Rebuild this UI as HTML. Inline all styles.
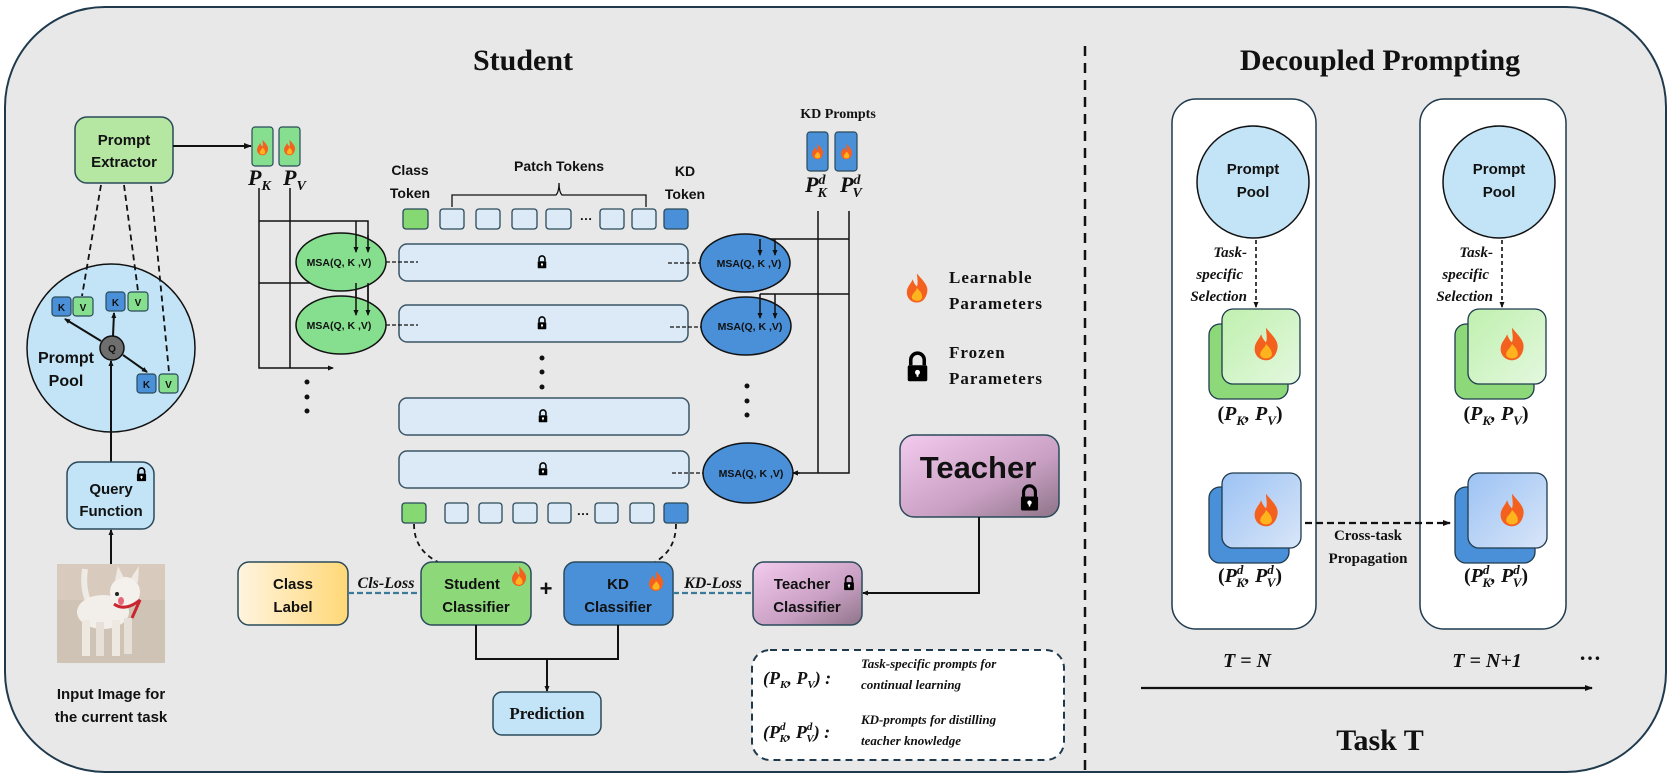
<!DOCTYPE html>
<html><head><meta charset="utf-8"><style>
html,body{margin:0;padding:0;background:#fff;}
svg{display:block;}
.sb{font-family:"Liberation Sans",sans-serif;font-weight:bold;fill:#111;}
.sf{font-family:"Liberation Serif",serif;font-weight:bold;fill:#111;}
.mi{font-family:"Liberation Serif",serif;font-weight:bold;font-style:italic;fill:#111;}
</style></head><body>
<svg width="1673" height="782" viewBox="0 0 1673 782" xmlns="http://www.w3.org/2000/svg">
<defs>
<marker id="ar" markerWidth="8" markerHeight="8" refX="7" refY="4" orient="auto" markerUnits="userSpaceOnUse"><path d="M0,1 L8,4 L0,7 Z" fill="#111"/></marker>
<marker id="ars" markerWidth="6" markerHeight="6" refX="5" refY="3" orient="auto" markerUnits="userSpaceOnUse"><path d="M0,0.5 L6,3 L0,5.5 Z" fill="#111"/></marker>
<symbol id="fl" viewBox="-8 -11 16 22" overflow="visible">
<path d="M0,-10 C4,-5 8,-2 7,3 C6,8 3,10 0,10 C-4,10 -7,7 -7,3 C-7,-1 -4,-3 -3,-6 C-2,-3 -1,-2 0,-1 C1,-4 0,-7 0,-10Z" fill="#f4601e"/>
<path d="M0,0 C2,2 4,4 3.5,7 C2.5,9.5 -2.5,9.5 -3.5,7 C-4,4 -1,3 0,0Z" fill="#ffb41e"/>
</symbol>
<symbol id="lk" viewBox="-6 -9 12 18" overflow="visible">
<path d="M-3.8,-1 V-4 A3.8,3.8 0 0 1 3.8,-4 V-1" stroke="#000" stroke-width="2" fill="none"/>
<rect x="-5.5" y="-1" width="11" height="9" rx="1" fill="#000"/>
<circle cx="0" cy="3" r="1.4" fill="#fff"/><rect x="-0.5" y="3" width="1" height="2.5" fill="#fff"/>
</symbol>
<linearGradient id="gy" x1="0" x2="1" y1="0" y2="0"><stop offset="0" stop-color="#fff4df"/><stop offset="1" stop-color="#ffd877"/></linearGradient>
<linearGradient id="gp" x1="0" x2="1" y1="0" y2="1"><stop offset="0" stop-color="#f3cbee"/><stop offset="0.6" stop-color="#c9a0c3"/><stop offset="1" stop-color="#8e7488"/></linearGradient>
<linearGradient id="gg" x1="0" x2="1" y1="0" y2="1"><stop offset="0" stop-color="#bff0ae"/><stop offset="1" stop-color="#e4f8df"/></linearGradient>
<linearGradient id="gb" x1="0" x2="1" y1="0" y2="1"><stop offset="0" stop-color="#9cc2f4"/><stop offset="1" stop-color="#d9e6f8"/></linearGradient>
</defs>

<!-- outer container -->
<rect x="5" y="7" width="1661" height="765" rx="100" ry="100" fill="#e8e8e8" stroke="#1f3a4d" stroke-width="2"/>

<text x="523" y="70" text-anchor="middle" class="sf" font-size="30">Student</text>
<text x="1380" y="70" text-anchor="middle" class="sf" font-size="30">Decoupled Prompting</text>
<line x1="1085" y1="46" x2="1085" y2="772" stroke="#111" stroke-width="2.5" stroke-dasharray="10,7"/>

<!-- Prompt extractor -->
<rect x="75" y="117" width="98" height="66" rx="12" fill="#b5e6a2" stroke="#2a4a5a" stroke-width="1.5"/>
<text x="124" y="145" text-anchor="middle" class="sb" font-size="15">Prompt</text>
<text x="124" y="167" text-anchor="middle" class="sb" font-size="15">Extractor</text>
<line x1="173" y1="146" x2="251" y2="146" stroke="#111" stroke-width="2" marker-end="url(#ar)"/>
<rect x="252" y="127" width="21" height="39" rx="3" fill="#86df8e" stroke="#2a4a5a" stroke-width="1.2"/>
<rect x="279" y="127" width="21" height="39" rx="3" fill="#86df8e" stroke="#2a4a5a" stroke-width="1.2"/>
<use href="#fl" x="256" y="139" width="13" height="17"/>
<use href="#fl" x="283" y="139" width="13" height="17"/>
<text x="248" y="185" class="mi" font-size="22">P<tspan font-size="14" dy="5">K</tspan></text>
<text x="283" y="185" class="mi" font-size="22">P<tspan font-size="14" dy="5">V</tspan></text>

<!-- Prompt pool left -->
<circle cx="111" cy="348" r="84" fill="#c2e4f6" stroke="#111" stroke-width="1.5"/>
<g stroke="#111" stroke-width="1.8" stroke-dasharray="6,4" fill="none">
<line x1="101" y1="185" x2="82" y2="296"/><line x1="124" y1="185" x2="138" y2="291"/><line x1="151" y1="186" x2="169" y2="372"/>
</g>
<g stroke="#2a4a5a" stroke-width="1.2" font-family="Liberation Sans,sans-serif" font-size="11">
<rect x="52" y="297" width="19" height="19" rx="3" fill="#4a90d9"/><rect x="73" y="297" width="20" height="19" rx="3" fill="#86df8e"/>
<rect x="106" y="292" width="19" height="19" rx="3" fill="#4a90d9"/><rect x="128" y="292" width="20" height="19" rx="3" fill="#86df8e"/>
<rect x="137" y="374" width="19" height="19" rx="3" fill="#4a90d9"/><rect x="159" y="374" width="19" height="19" rx="3" fill="#86df8e"/>
</g>
<g class="sb" font-size="10" font-weight="normal" text-anchor="middle">
<text x="61.5" y="311">K</text><text x="83" y="311">V</text>
<text x="115.5" y="306">K</text><text x="138" y="306">V</text>
<text x="146.5" y="388">K</text><text x="168.5" y="388">V</text>
</g>
<g stroke="#111" stroke-width="2">
<line x1="101" y1="341" x2="65" y2="319" marker-end="url(#ars)"/>
<line x1="113" y1="336" x2="114" y2="313" marker-end="url(#ars)"/>
<line x1="123" y1="355" x2="147" y2="372" marker-end="url(#ars)"/>
<line x1="111" y1="462" x2="111" y2="361" marker-end="url(#ars)"/>
<line x1="111" y1="564" x2="111" y2="530" marker-end="url(#ars)"/>
</g>
<circle cx="112" cy="348" r="12" fill="#6e6e6e" stroke="#111" stroke-width="1.5"/>
<text x="112" y="352" text-anchor="middle" class="sb" font-size="10">Q</text>
<text x="66" y="363" text-anchor="middle" class="sb" font-size="16">Prompt</text>
<text x="66" y="386" text-anchor="middle" class="sb" font-size="16">Pool</text>

<!-- Query function -->
<rect x="67" y="462" width="87" height="67" rx="12" fill="#c2e4f6" stroke="#2a4a5a" stroke-width="1.5"/>
<use href="#lk" x="136" y="467" width="11" height="15"/>
<text x="111" y="494" text-anchor="middle" class="sb" font-size="15">Query</text>
<text x="111" y="516" text-anchor="middle" class="sb" font-size="15">Function</text>

<!-- dog image -->
<rect x="57" y="564" width="108" height="99" fill="#d8cbbd"/>
<rect x="57" y="600" width="108" height="63" fill="#cfc3b6"/>
<path d="M85,569 Q82,590 90,605" stroke="#eeeae4" stroke-width="6" fill="none"/>
<ellipse cx="103" cy="612" rx="26" ry="17" fill="#f2efea"/>
<ellipse cx="125" cy="592" rx="15" ry="15" fill="#f4f1ec"/>
<path d="M115,580 L118,566 L124,578 Z M131,578 L139,566 L138,583 Z" fill="#eee9e2"/>
<rect x="82" y="620" width="8" height="36" fill="#ede8e0"/><rect x="96" y="622" width="8" height="34" fill="#e6e0d8"/>
<rect x="112" y="620" width="8" height="36" fill="#ede8e0"/><rect x="124" y="618" width="8" height="36" fill="#e6e0d8"/>
<circle cx="117" cy="594" r="2" fill="#222"/>
<ellipse cx="121" cy="601" rx="3" ry="4" fill="#e8657a"/>
<path d="M114,604 Q125,612 140,600 L132,618" stroke="#c9252f" stroke-width="3" fill="none"/>
<text x="111" y="699" text-anchor="middle" class="sb" font-size="15">Input Image for</text>
<text x="111" y="722" text-anchor="middle" class="sb" font-size="15">the current task</text>

<!-- left MSA wiring -->
<g stroke="#111" stroke-width="1.5" fill="none">
<polyline points="259,188 259,368 333,368" marker-end="url(#ars)"/>
<line x1="290" y1="188" x2="290" y2="368"/>
<polyline points="259,221 368,221 368,252" marker-end="url(#ars)"/>
<line x1="356" y1="221" x2="356" y2="252" marker-end="url(#ars)"/>
<polyline points="259,283 368,283 368,315" marker-end="url(#ars)"/>
<line x1="356" y1="283" x2="356" y2="315" marker-end="url(#ars)"/>
</g>
<ellipse cx="341" cy="262" rx="45" ry="29" fill="#86df8e" stroke="#111" stroke-width="1.5"/>
<ellipse cx="341" cy="325" rx="45" ry="29" fill="#86df8e" stroke="#111" stroke-width="1.5"/>
<g stroke="#111" stroke-width="1.5" fill="none">
<line x1="356" y1="283" x2="356" y2="315" marker-end="url(#ars)"/>
<line x1="368" y1="283" x2="368" y2="315" marker-end="url(#ars)"/>
<line x1="356" y1="235" x2="356" y2="252" marker-end="url(#ars)"/>
<line x1="368" y1="235" x2="368" y2="252" marker-end="url(#ars)"/>
</g>
<g class="sb" font-size="10.5" text-anchor="middle">
<text x="339" y="266">MSA(Q, K ,V)</text><text x="339" y="329">MSA(Q, K ,V)</text>
</g>
<g fill="#111"><circle cx="307" cy="382" r="2.5"/><circle cx="307" cy="397" r="2.5"/><circle cx="307" cy="411" r="2.5"/></g>

<!-- transformer blocks -->
<g fill="#dbeaf6" stroke="#3a5566" stroke-width="1.5">
<rect x="399" y="244" width="289" height="37" rx="8"/>
<rect x="399" y="305" width="289" height="37" rx="8"/>
<rect x="399" y="398" width="290" height="37" rx="8"/>
<rect x="399" y="451" width="290" height="37" rx="8"/>
</g>
<use href="#lk" x="537" y="255" width="10" height="14"/>
<use href="#lk" x="537" y="316" width="10" height="14"/>
<use href="#lk" x="538" y="409" width="10" height="14"/>
<use href="#lk" x="538" y="462" width="10" height="14"/>
<g fill="#111"><circle cx="542" cy="358" r="2.5"/><circle cx="542" cy="372" r="2.5"/><circle cx="542" cy="387" r="2.5"/></g>
<g stroke="#111" stroke-width="1.3" stroke-dasharray="4,2">
<line x1="386" y1="262" x2="418" y2="262"/><line x1="386" y1="325" x2="418" y2="325"/>
<line x1="668" y1="263" x2="701" y2="263"/><line x1="670" y1="327" x2="702" y2="327"/>
<line x1="672" y1="473" x2="704" y2="473"/>
</g>

<!-- tokens top -->
<text x="410" y="175" text-anchor="middle" class="sb" font-size="14">Class</text>
<text x="410" y="198" text-anchor="middle" class="sb" font-size="14">Token</text>
<text x="559" y="171" text-anchor="middle" class="sb" font-size="14">Patch Tokens</text>
<text x="685" y="176" text-anchor="middle" class="sb" font-size="14">KD</text>
<text x="685" y="199" text-anchor="middle" class="sb" font-size="14">Token</text>
<path d="M452,207 V195 H556 Q559,192 559,183 Q559,192 562,195 H646 V207" stroke="#111" stroke-width="1.3" fill="none"/>
<g stroke="#2a4a5a" stroke-width="1.3">
<rect x="403" y="209" width="25" height="20" rx="3" fill="#86d872"/>
<rect x="440" y="209" width="24" height="20" rx="3" fill="#dbeaf6"/>
<rect x="476" y="209" width="24" height="20" rx="3" fill="#dbeaf6"/>
<rect x="512" y="209" width="25" height="20" rx="3" fill="#dbeaf6"/>
<rect x="546" y="209" width="25" height="20" rx="3" fill="#dbeaf6"/>
<rect x="600" y="209" width="24" height="20" rx="3" fill="#dbeaf6"/>
<rect x="632" y="209" width="24" height="20" rx="3" fill="#dbeaf6"/>
<rect x="664" y="209" width="24" height="20" rx="3" fill="#4a90d9"/>
<rect x="402" y="503" width="24" height="20" rx="3" fill="#86d872"/>
<rect x="445" y="503" width="23" height="20" rx="3" fill="#dbeaf6"/>
<rect x="479" y="503" width="23" height="20" rx="3" fill="#dbeaf6"/>
<rect x="513" y="503" width="24" height="20" rx="3" fill="#dbeaf6"/>
<rect x="548" y="503" width="23" height="20" rx="3" fill="#dbeaf6"/>
<rect x="595" y="503" width="23" height="20" rx="3" fill="#dbeaf6"/>
<rect x="630" y="503" width="24" height="20" rx="3" fill="#dbeaf6"/>
<rect x="664" y="503" width="24" height="20" rx="3" fill="#4a90d9"/>
</g>
<text x="586" y="220" text-anchor="middle" class="sb" font-size="13">…</text>
<text x="583" y="515" text-anchor="middle" class="sb" font-size="13">…</text>

<!-- KD prompts -->
<text x="838" y="118" text-anchor="middle" class="sf" font-size="14">KD Prompts</text>
<rect x="807" y="132" width="21" height="39" rx="3" fill="#4a90d9" stroke="#2a4a5a" stroke-width="1.2"/>
<rect x="835" y="132" width="22" height="39" rx="3" fill="#4a90d9" stroke="#2a4a5a" stroke-width="1.2"/>
<use href="#fl" x="811" y="143" width="13" height="17"/>
<use href="#fl" x="840" y="143" width="13" height="17"/>
<text x="805" y="192" class="mi" font-size="22">P<tspan font-size="14" dx="0" dy="-8">d</tspan><tspan font-size="14" dx="-8" dy="13">K</tspan></text>
<text x="840" y="192" class="mi" font-size="22">P<tspan font-size="14" dy="-8">d</tspan><tspan font-size="14" dx="-8" dy="13">V</tspan></text>
<g stroke="#111" stroke-width="1.5" fill="none">
<line x1="818" y1="211" x2="818" y2="473"/>
<polyline points="849,211 849,473 793,473" marker-end="url(#ars)"/>
<line x1="760" y1="239" x2="849" y2="239"/>
<line x1="760" y1="294" x2="849" y2="294"/>
</g>
<ellipse cx="745" cy="263" rx="45" ry="29" fill="#4a90d9" stroke="#111" stroke-width="1.5"/>
<ellipse cx="746" cy="326" rx="45" ry="29" fill="#4a90d9" stroke="#111" stroke-width="1.5"/>
<ellipse cx="748" cy="473" rx="45" ry="30" fill="#4a90d9" stroke="#111" stroke-width="1.5"/>
<g stroke="#111" stroke-width="1.5" fill="none">
<line x1="760" y1="239" x2="760" y2="255" marker-end="url(#ars)"/>
<line x1="775" y1="239" x2="775" y2="255" marker-end="url(#ars)"/>
<line x1="760" y1="294" x2="760" y2="318" marker-end="url(#ars)"/>
<line x1="775" y1="294" x2="775" y2="318" marker-end="url(#ars)"/>
<line x1="800" y1="473" x2="793" y2="473" marker-end="url(#ars)"/>
</g>
<g class="sb" font-size="10.5" text-anchor="middle">
<text x="749" y="267">MSA(Q, K ,V)</text><text x="750" y="330">MSA(Q, K ,V)</text><text x="751" y="477">MSA(Q, K ,V)</text>
</g>
<g fill="#111"><circle cx="747" cy="386" r="2.5"/><circle cx="747" cy="401" r="2.5"/><circle cx="747" cy="415" r="2.5"/></g>

<!-- legend icons -->
<use href="#fl" x="905" y="272" width="24" height="32"/>
<text x="949" y="283" class="sf" font-size="17" letter-spacing="1">Learnable</text>
<text x="949" y="309" class="sf" font-size="17" letter-spacing="1">Parameters</text>
<use href="#lk" x="906" y="351" width="23" height="32"/>
<text x="949" y="358" class="sf" font-size="17" letter-spacing="1">Frozen</text>
<text x="949" y="384" class="sf" font-size="17" letter-spacing="1">Parameters</text>

<!-- Teacher -->
<rect x="900" y="435" width="159" height="82" rx="14" fill="url(#gp)" stroke="#2a4a5a" stroke-width="1.5"/>
<text x="978" y="478" text-anchor="middle" class="sb" font-size="31">Teacher</text>
<use href="#lk" x="1018" y="484" width="23" height="28"/>
<polyline points="979,517 979,593 863,593" stroke="#111" stroke-width="2" fill="none" marker-end="url(#ars)"/>

<!-- classifiers -->
<path d="M414,524 Q414,550 438,562" stroke="#111" stroke-width="1.8" stroke-dasharray="5,4" fill="none"/>
<path d="M676,524 Q676,550 655,562" stroke="#111" stroke-width="1.8" stroke-dasharray="5,4" fill="none"/>
<rect x="238" y="562" width="110" height="63" rx="11" fill="url(#gy)" stroke="#2a4a5a" stroke-width="1.5"/>
<rect x="421" y="562" width="110" height="63" rx="11" fill="#8dd97a" stroke="#2a4a5a" stroke-width="1.5"/>
<rect x="564" y="562" width="109" height="63" rx="11" fill="#4a90d9" stroke="#2a4a5a" stroke-width="1.5"/>
<rect x="753" y="562" width="109" height="63" rx="11" fill="url(#gp)" stroke="#2a4a5a" stroke-width="1.5"/>
<g class="sb" font-size="15" text-anchor="middle">
<text x="293" y="589">Class</text><text x="293" y="612">Label</text>
<text x="472" y="589">Student</text><text x="476" y="612">Classifier</text>
<text x="618" y="589">KD</text><text x="618" y="612">Classifier</text>
<text x="802" y="589">Teacher</text><text x="807" y="612">Classifier</text>
</g>
<use href="#fl" x="511" y="565" width="16" height="22"/>
<use href="#fl" x="648" y="570" width="16" height="22"/>
<use href="#lk" x="843" y="575" width="12" height="16"/>
<text x="386" y="588" text-anchor="middle" class="mi" font-size="16">Cls-Loss</text>
<text x="713" y="588" text-anchor="middle" class="mi" font-size="16">KD-Loss</text>
<line x1="348" y1="593" x2="421" y2="593" stroke="#3d7a9a" stroke-width="2.2" stroke-dasharray="6,3"/>
<line x1="673" y1="593" x2="753" y2="593" stroke="#3d7a9a" stroke-width="2.2" stroke-dasharray="6,3"/>
<text x="546" y="596" text-anchor="middle" class="sb" font-size="22">+</text>
<polyline points="476,625 476,659 618,659 618,625" stroke="#111" stroke-width="2" fill="none"/>
<line x1="547" y1="659" x2="547" y2="691" stroke="#111" stroke-width="2" marker-end="url(#ars)"/>
<rect x="493" y="692" width="108" height="43" rx="9" fill="#c2e4f6" stroke="#2a4a5a" stroke-width="1.5"/>
<text x="547" y="719" text-anchor="middle" class="sf" font-size="17">Prediction</text>

<!-- legend box -->
<rect x="752" y="650" width="312" height="110" rx="18" fill="#fff" stroke="#1f3a4d" stroke-width="2" stroke-dasharray="7,5"/>
<text x="763" y="684" class="mi" font-size="18" font-style="normal">(<tspan font-style="italic">P</tspan><tspan font-size="11" dy="4" font-style="italic">K</tspan><tspan dy="-4">, </tspan><tspan font-style="italic">P</tspan><tspan font-size="11" dy="4" font-style="italic">V</tspan><tspan dy="-4">) :</tspan></text>
<text x="861" y="668" class="mi" font-size="13">Task-specific prompts for</text>
<text x="861" y="689" class="mi" font-size="13">continual learning</text>
<text x="763" y="738" class="mi" font-size="18" font-style="normal">(<tspan font-style="italic">P</tspan><tspan font-size="11" dy="-8" font-style="italic">d</tspan><tspan font-size="11" dx="-6" dy="12" font-style="italic">K</tspan><tspan dy="-4">, </tspan><tspan font-style="italic">P</tspan><tspan font-size="11" dy="-8" font-style="italic">d</tspan><tspan font-size="11" dx="-6" dy="12" font-style="italic">V</tspan><tspan dy="-4">) :</tspan></text>
<text x="861" y="724" class="mi" font-size="13">KD-prompts for distilling</text>
<text x="861" y="745" class="mi" font-size="13">teacher knowledge</text>

<!-- Decoupled prompting panels -->
<rect x="1172" y="99" width="144" height="530" rx="24" fill="#fff" stroke="#1f3a4d" stroke-width="1.5"/>
<rect x="1420" y="99" width="146" height="530" rx="24" fill="#fff" stroke="#1f3a4d" stroke-width="1.5"/>
<g id="panel">
<circle cx="1253" cy="182" r="56" fill="#c2e4f6" stroke="#111" stroke-width="1.5"/>
<text x="1253" y="174" text-anchor="middle" class="sb" font-size="15">Prompt</text>
<text x="1253" y="197" text-anchor="middle" class="sb" font-size="15">Pool</text>
<line x1="1256" y1="240" x2="1256" y2="307" stroke="#111" stroke-width="1.6" stroke-dasharray="4,3" marker-end="url(#ars)"/>
<text x="1247" y="257" text-anchor="end" class="mi" font-size="15">Task-</text>
<text x="1243" y="279" text-anchor="end" class="mi" font-size="15">specific</text>
<text x="1247" y="301" text-anchor="end" class="mi" font-size="15">Selection</text>
<rect x="1209" y="324" width="79" height="75" rx="11" fill="#8dd97a" stroke="#1f3a4d" stroke-width="1.3"/>
<rect x="1222" y="309" width="78" height="75" rx="11" fill="url(#gg)" stroke="#1f3a4d" stroke-width="1.3"/>
<use href="#fl" x="1253" y="326" width="26" height="36"/>
<text x="1250" y="420" text-anchor="middle" class="mi" font-size="20"><tspan font-style="normal">(</tspan>P<tspan font-size="13" dy="5">K</tspan><tspan dy="-5">, P</tspan><tspan font-size="13" dy="5">V</tspan><tspan dy="-5" font-style="normal">)</tspan></text>
<rect x="1209" y="487" width="80" height="76" rx="11" fill="#4a90d9" stroke="#1f3a4d" stroke-width="1.3"/>
<rect x="1222" y="473" width="79" height="75" rx="11" fill="url(#gb)" stroke="#1f3a4d" stroke-width="1.3"/>
<use href="#fl" x="1253" y="492" width="26" height="36"/>
<text x="1250" y="582" text-anchor="middle" class="mi" font-size="20"><tspan font-style="normal">(</tspan>P<tspan font-size="13" dy="-8">d</tspan><tspan font-size="13" dx="-7" dy="13">K</tspan><tspan dy="-5">, P</tspan><tspan font-size="13" dy="-8">d</tspan><tspan font-size="13" dx="-7" dy="13">V</tspan><tspan dy="-5" font-style="normal">)</tspan></text>
</g>
<use href="#panel" x="246" y="0"/>
<line x1="1305" y1="523" x2="1450" y2="523" stroke="#111" stroke-width="2.2" stroke-dasharray="7,4" marker-end="url(#ar)"/>
<text x="1368" y="540" text-anchor="middle" class="sf" font-size="15">Cross-task</text>
<text x="1368" y="563" text-anchor="middle" class="sf" font-size="15">Propagation</text>

<text x="1247" y="667" text-anchor="middle" class="mi" font-size="20">T = N</text>
<text x="1487" y="667" text-anchor="middle" class="mi" font-size="20">T = N+1</text>
<text x="1590" y="660" text-anchor="middle" class="sf" font-size="22">…</text>
<line x1="1141" y1="688" x2="1592" y2="688" stroke="#111" stroke-width="2.2" marker-end="url(#ar)"/>
<text x="1380" y="750" text-anchor="middle" class="sf" font-size="30">Task T</text>
</svg>
</body></html>
